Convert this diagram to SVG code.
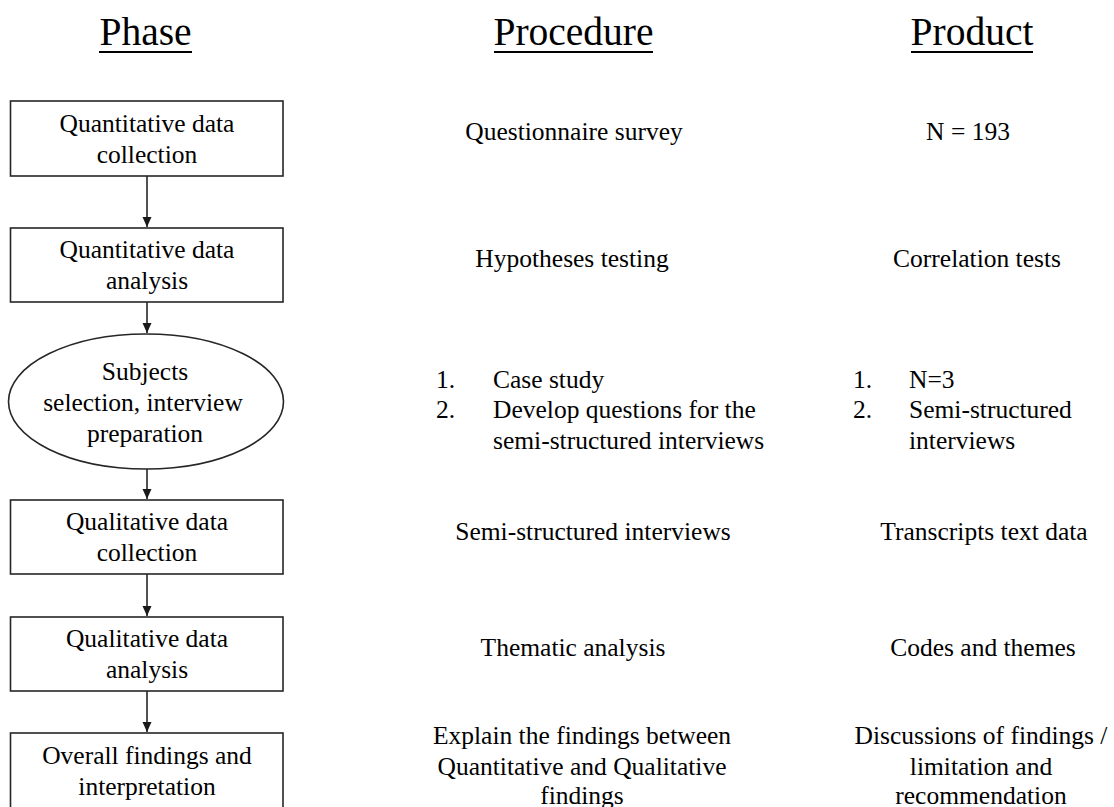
<svg xmlns="http://www.w3.org/2000/svg" width="1114" height="807" viewBox="0 0 1114 807">
  <defs>
    <style>
      text { font-family: 'Liberation Serif', 'Times New Roman', 'DejaVu Serif', serif; fill: #000; }
      .title { font-size: 39.5px; text-anchor: middle; }
      .t { font-size: 25.5px; text-anchor: middle; }
      .l { font-size: 25.5px; text-anchor: start; }
      .node { fill: #fff; stroke: #262626; stroke-width: 1.6; }
      .rule { stroke: #000; stroke-width: 1.8; }
      .edge { stroke: #262626; stroke-width: 1.6; fill: none; marker-end: url(#arrow); }
    </style>
    <marker id="arrow" viewBox="0 0 10 10" refX="10" refY="5" markerWidth="10" markerHeight="10" markerUnits="userSpaceOnUse" orient="auto">
      <path d="M0,0.5 L10,5 L0,9.5 Z" fill="#1a1a1a"/>
    </marker>
  </defs>

  <rect width="1114" height="807" fill="#fff"/>

  <!-- column headings -->
  <g id="headings">
    <text class="title" x="145.5" y="45">Phase</text>
    <line class="rule" x1="99" y1="52" x2="192" y2="52"/>
    <text class="title" x="573.5" y="45">Procedure</text>
    <line class="rule" x1="494" y1="52" x2="653" y2="52"/>
    <text class="title" x="972" y="45">Product</text>
    <line class="rule" x1="911" y1="52" x2="1033" y2="52"/>
  </g>

  <!-- connectors between phases -->
  <g id="connectors">
    <line class="edge" x1="147" y1="176" x2="147" y2="227"/>
    <line class="edge" x1="147" y1="302" x2="147" y2="333"/>
    <line class="edge" x1="147" y1="469" x2="147" y2="499"/>
    <line class="edge" x1="147" y1="574" x2="147" y2="616"/>
    <line class="edge" x1="147" y1="691" x2="147" y2="732"/>
  </g>

  <!-- phase nodes -->
  <g id="phase-quant-collection">
    <rect class="node" x="10.5" y="101" width="272.5" height="75"/>
    <text class="t" x="147" y="132">Quantitative data</text>
    <text class="t" x="147" y="163">collection</text>
  </g>
  <g id="phase-quant-analysis">
    <rect class="node" x="10.5" y="228" width="272.5" height="74"/>
    <text class="t" x="147" y="258">Quantitative data</text>
    <text class="t" x="147" y="289">analysis</text>
  </g>
  <g id="phase-subjects">
    <ellipse class="node" cx="146" cy="401.5" rx="137.5" ry="67.5"/>
    <text class="t" x="145" y="380">Subjects</text>
    <text class="t" x="143" y="411">selection, interview</text>
    <text class="t" x="145" y="442">preparation</text>
  </g>
  <g id="phase-qual-collection">
    <rect class="node" x="10.5" y="500" width="272.5" height="74"/>
    <text class="t" x="147" y="530">Qualitative data</text>
    <text class="t" x="147" y="561">collection</text>
  </g>
  <g id="phase-qual-analysis">
    <rect class="node" x="10.5" y="617" width="272.5" height="74"/>
    <text class="t" x="147" y="647">Qualitative data</text>
    <text class="t" x="147" y="678">analysis</text>
  </g>
  <g id="phase-overall">
    <rect class="node" x="10.5" y="733" width="272.5" height="90"/>
    <text class="t" x="147" y="764">Overall findings and</text>
    <text class="t" x="147" y="795">interpretation</text>
  </g>

  <!-- procedure column -->
  <g id="procedures">
    <text class="t" x="574" y="140">Questionnaire survey</text>
    <text class="t" x="572" y="267">Hypotheses testing</text>
    <text class="l" x="436" y="388">1.</text>
    <text class="l" x="493" y="388">Case study</text>
    <text class="l" x="436" y="418">2.</text>
    <text class="l" x="493" y="418">Develop questions for the</text>
    <text class="l" x="493" y="449">semi-structured interviews</text>
    <text class="t" x="593" y="540">Semi-structured interviews</text>
    <text class="t" x="573" y="656">Thematic analysis</text>
    <text class="t" x="582" y="744">Explain the findings between</text>
    <text class="t" x="582" y="775">Quantitative and Qualitative</text>
    <text class="t" x="582" y="804">findings</text>
  </g>

  <!-- product column -->
  <g id="products">
    <text class="t" x="968" y="140">N = 193</text>
    <text class="t" x="977" y="267">Correlation tests</text>
    <text class="l" x="853" y="388">1.</text>
    <text class="l" x="909" y="388">N=3</text>
    <text class="l" x="853" y="418">2.</text>
    <text class="l" x="909" y="418">Semi-structured</text>
    <text class="l" x="909" y="449">interviews</text>
    <text class="t" x="984" y="540">Transcripts text data</text>
    <text class="t" x="983" y="656">Codes and themes</text>
    <text class="t" x="981" y="744">Discussions of findings /</text>
    <text class="t" x="981" y="775">limitation and</text>
    <text class="t" x="981" y="804">recommendation</text>
  </g>
</svg>
